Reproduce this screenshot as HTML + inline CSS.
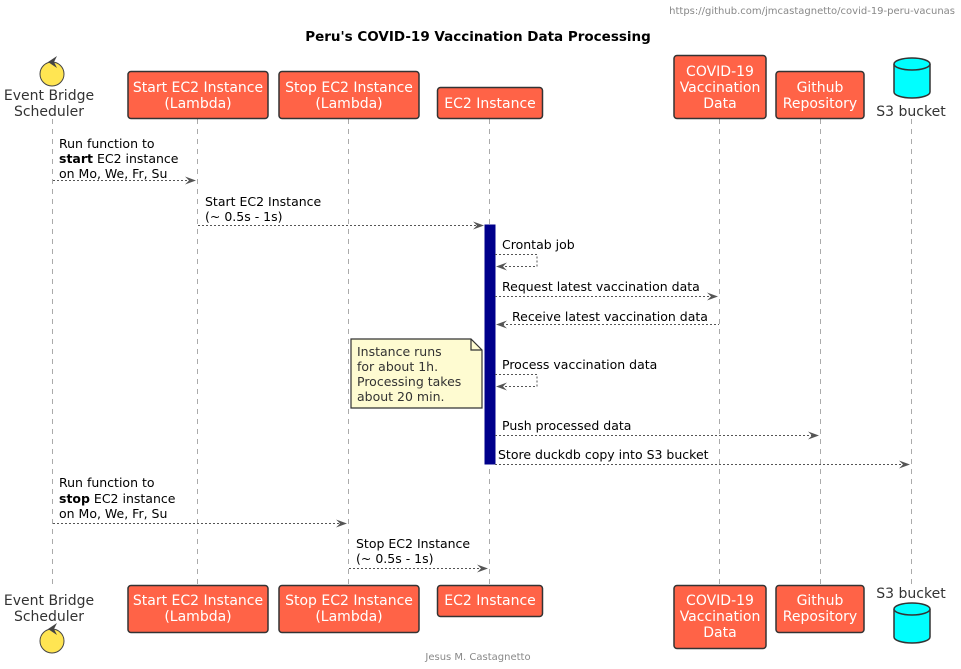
<!DOCTYPE html>
<html><head><meta charset="utf-8"><style>
html,body{margin:0;padding:0;background:#fff;}
svg{display:block;font-family:"DejaVu Sans","Liberation Sans",sans-serif;}
</style></head><body>
<svg width="961" height="669" viewBox="0 0 961 669" xmlns="http://www.w3.org/2000/svg">
<text x="955" y="14" font-size="10" fill="#888" text-anchor="end">https://github.com/jmcastagnetto/covid-19-peru-vacunas</text>
<text x="478" y="41" font-size="13.5" font-weight="bold" text-anchor="middle">Peru's COVID-19 Vaccination Data Processing</text>
<text x="478" y="660" font-size="10" fill="#888" text-anchor="middle">Jesus M. Castagnetto</text>

<g stroke="#aaa" stroke-dasharray="5,5" stroke-width="1">
<line x1="52.5" y1="119" x2="52.5" y2="585"/>
<line x1="197.5" y1="119" x2="197.5" y2="585"/>
<line x1="348.5" y1="119" x2="348.5" y2="585"/>
<line x1="489.5" y1="119" x2="489.5" y2="585"/>
<line x1="719.5" y1="119" x2="719.5" y2="585"/>
<line x1="820.5" y1="119" x2="820.5" y2="585"/>
<line x1="911.5" y1="119" x2="911.5" y2="585"/>
</g>

<g fill="#FF6347" stroke="#333" stroke-width="1.5">
<rect x="128" y="71.5" width="140" height="47" rx="3"/>
<rect x="279" y="71.5" width="140" height="47" rx="3"/>
<rect x="437.5" y="87.5" width="105" height="31" rx="3"/>
<rect x="674" y="55.5" width="92" height="63" rx="3"/>
<rect x="776" y="71.5" width="88" height="47" rx="3"/>
<rect x="128" y="585.5" width="140" height="47" rx="3"/>
<rect x="279" y="585.5" width="140" height="47" rx="3"/>
<rect x="437.5" y="585.5" width="105" height="31" rx="3"/>
<rect x="674" y="585.5" width="92" height="63" rx="3"/>
<rect x="776" y="585.5" width="88" height="47" rx="3"/>
</g>
<g font-size="14" fill="#fff" text-anchor="middle">
<text x="198" y="92">Start EC2 Instance</text><text x="198" y="108">(Lambda)</text>
<text x="349" y="92">Stop EC2 Instance</text><text x="349" y="108">(Lambda)</text>
<text x="490" y="108">EC2 Instance</text>
<text x="720" y="76">COVID-19</text><text x="720" y="92">Vaccination</text><text x="720" y="108">Data</text>
<text x="820" y="92">Github</text><text x="820" y="108">Repository</text>
<text x="198" y="605">Start EC2 Instance</text><text x="198" y="621">(Lambda)</text>
<text x="349" y="605">Stop EC2 Instance</text><text x="349" y="621">(Lambda)</text>
<text x="490" y="605">EC2 Instance</text>
<text x="720" y="605">COVID-19</text><text x="720" y="621">Vaccination</text><text x="720" y="637">Data</text>
<text x="820" y="605">Github</text><text x="820" y="621">Repository</text>
</g>
<g font-size="14" fill="#333" text-anchor="middle">
<text x="49" y="100">Event Bridge</text><text x="49" y="116">Scheduler</text>
<text x="49" y="605">Event Bridge</text><text x="49" y="621">Scheduler</text>
<text x="911" y="116">S3 bucket</text>
<text x="911" y="598">S3 bucket</text>
</g>
<!-- control icons -->
<g stroke="#444" stroke-width="1" fill="#FFE552">
<circle cx="52" cy="74" r="12"/>
<circle cx="52" cy="641" r="12"/>
</g>
<g fill="#444">
<polygon points="48,62 57,56 54,62 57,68"/>
<polygon points="48,629 57,623 54,629 57,635"/>
</g>
<!-- S3 cylinders -->
<g fill="#00FFFF" stroke="#333" stroke-width="1.5">
<path d="M894,64 v28 a18,6 0 0 0 36,0 v-28"/>
<ellipse cx="912" cy="64" rx="18" ry="6"/>
<path d="M894,609 v28 a18,6 0 0 0 36,0 v-28"/>
<ellipse cx="912" cy="609" rx="18" ry="6"/>
</g>

<!-- activation -->
<rect x="485" y="225" width="10" height="239" fill="#00008B" stroke="#00008B"/>

<!-- note -->
<path d="M351,339 H471 L482,350 V408 H351 Z" fill="#FEFBD1" stroke="#333" stroke-width="1.2"/>
<path d="M471,339 V350 H482" fill="none" stroke="#333" stroke-width="1.2"/>
<g font-size="12.5" fill="#333">
<text x="357" y="356">Instance runs</text><text x="357" y="371">for about 1h.</text>
<text x="357" y="386">Processing takes</text><text x="357" y="401">about 20 min.</text>
</g>

<!-- messages -->
<g stroke="#555" stroke-dasharray="2,2" stroke-width="1" fill="none">
<line x1="53" y1="180.5" x2="194" y2="180.5"/>
<line x1="198" y1="225.5" x2="482" y2="225.5"/>
<polyline points="495,254.5 537,254.5 537,266.5 498,266.5"/>
<line x1="495" y1="296.5" x2="716" y2="296.5"/>
<line x1="498" y1="324.5" x2="719" y2="324.5"/>
<polyline points="495,374.5 537,374.5 537,386.5 498,386.5"/>
<line x1="495" y1="435.5" x2="817" y2="435.5"/>
<line x1="495" y1="464.5" x2="908" y2="464.5"/>
<line x1="53" y1="523.5" x2="345" y2="523.5"/>
<line x1="349" y1="568.5" x2="486" y2="568.5"/>
</g>
<g fill="#555">
<polygon points="185,176.5 196,180.5 185,184.5 189,180.5"/>
<polygon points="473,221.5 484,225.5 473,229.5 477,225.5"/>
<polygon points="507,262.5 496,266.5 507,270.5 503,266.5"/>
<polygon points="707,292.5 718,296.5 707,300.5 711,296.5"/>
<polygon points="507,320.5 496,324.5 507,328.5 503,324.5"/>
<polygon points="507,382.5 496,386.5 507,390.5 503,386.5"/>
<polygon points="808,431.5 819,435.5 808,439.5 812,435.5"/>
<polygon points="899,460.5 910,464.5 899,468.5 903,464.5"/>
<polygon points="336,519.5 347,523.5 336,527.5 340,523.5"/>
<polygon points="477,564.5 488,568.5 477,572.5 481,568.5"/>
</g>
<g font-size="12.5" fill="#000">
<text x="59" y="148">Run function to</text>
<text x="59" y="163"><tspan font-weight="bold">start</tspan> EC2 instance</text>
<text x="59" y="178">on Mo, We, Fr, Su</text>
<text x="205" y="206">Start EC2 Instance</text><text x="205" y="221">(~ 0.5s - 1s)</text>
<text x="502" y="249">Crontab job</text>
<text x="502" y="291">Request latest vaccination data</text>
<text x="512" y="321">Receive latest vaccination data</text>
<text x="502" y="369">Process vaccination data</text>
<text x="502" y="430">Push processed data</text>
<text x="498" y="459">Store duckdb copy into S3 bucket</text>
<text x="59" y="487">Run function to</text>
<text x="59" y="503"><tspan font-weight="bold">stop</tspan> EC2 instance</text>
<text x="59" y="518">on Mo, We, Fr, Su</text>
<text x="356" y="548">Stop EC2 Instance</text><text x="356" y="563">(~ 0.5s - 1s)</text>
</g>
</svg>
</body></html>
